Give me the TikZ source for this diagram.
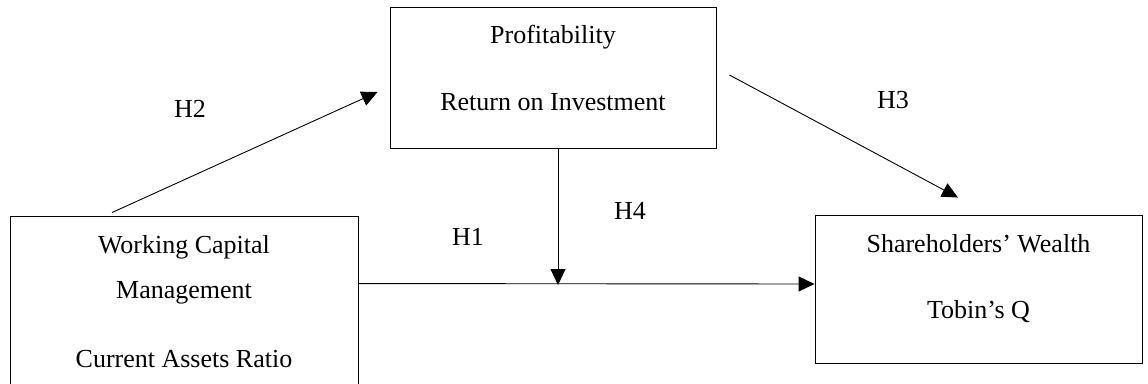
\documentclass[tikz,border=0pt]{standalone}
\usepackage{fontspec}
\setmainfont{Liberation Serif}
\usetikzlibrary{arrows.meta}
\begin{document}
\begin{tikzpicture}[x=1pt,y=-1pt,
  box/.style={draw=black,line width=0.9pt,inner sep=0pt},
  lbl/.style={anchor=base,inner sep=0pt,font=\fontsize{26}{31}\selectfont},
  arr/.style={line width=0.9pt,-{Triangle[length=16pt,width=15pt]}}]
\useasboundingbox (0,0) rectangle (1148,383);
\clip (0,0) rectangle (1148,383);
% boxes
\node[box,minimum width=326pt,minimum height=141pt] (prof) at (553,77.5) {};
\node[box,minimum width=348pt,minimum height=184pt] (wc) at (184,308) {};
\node[box,minimum width=327pt,minimum height=148pt] (sh) at (978.5,289) {};
% box texts
\node[lbl] (t1) at (553,43) {Profitability};
\node[lbl] (t2) at (553,110) {Return on Investment};
\node[lbl] (t3) at (184,253) {Working Capital};
\node[lbl] (t4) at (184,298) {Management};
\node[lbl] (t5) at (184,367) {Current Assets Ratio};
\node[lbl] (t6) at (978.5,252) {Shareholders’ Wealth};
\node[lbl] (t7) at (978.5,318) {Tobin’s Q};
% hypothesis labels
\node[lbl] (h1) at (468,245) {H1};
\node[lbl] (h2) at (190,117) {H2};
\node[lbl] (h3) at (893,108) {H3};
\node[lbl] (h4) at (630,219) {H4};
% connectors
\coordinate (j) at (558,285);
\draw[arr] ([yshift=-68pt]wc.north east) -- ([yshift=5pt]sh.west);
\draw[arr] ([xshift=5pt]prof.south) -- (j);
\draw[arr] ([xshift=-72pt,yshift=3pt]wc.north) -- ([xshift=-12pt,yshift=-14.5pt]prof.west);
\draw[arr] ([xshift=13pt,yshift=2.5pt]prof.east) -- ([xshift=-20.5pt,yshift=17pt]sh.north);
\end{tikzpicture}
\end{document}
